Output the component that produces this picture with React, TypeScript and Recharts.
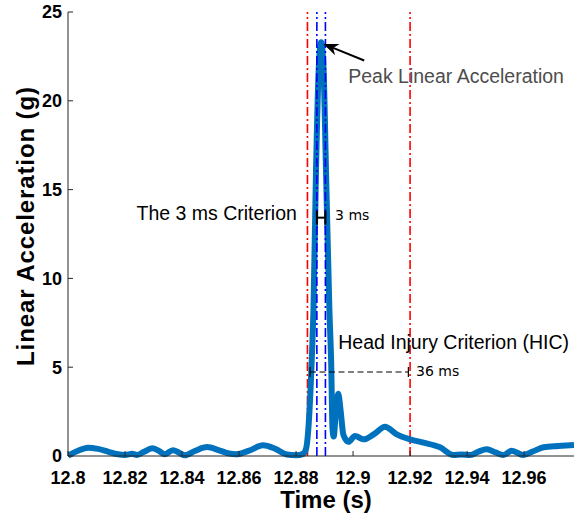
import { LineChart, Line, XAxis, YAxis, ReferenceLine, ReferenceDot } from "recharts";

// time (s) and linear acceleration (g)
const times = [
  12.8, 12.8035, 12.807, 12.8105, 12.814, 12.8175, 12.82, 12.8225, 12.8242, 12.8265,
  12.8295, 12.8318, 12.834, 12.8368, 12.839, 12.841, 12.8445, 12.8488, 12.853, 12.8565,
  12.859, 12.8635, 12.8684, 12.8725, 12.8768, 12.88, 12.8825, 12.8835, 12.8843, 12.8855,
  12.8861, 12.887, 12.888, 12.8888, 12.8896, 12.8905, 12.8917, 12.8923, 12.8928, 12.8932,
  12.894, 12.8948, 12.8956, 12.8966, 12.8984, 12.9007, 12.9036, 12.9075, 12.9112, 12.915,
  12.92, 12.9247, 12.9305, 12.9352, 12.938, 12.9411, 12.944, 12.9469, 12.95, 12.9527,
  12.9557, 12.9597, 12.963, 12.9668, 12.972, 12.9775,
];
const accel = [
  0.02, 0.3, 0.47, 0.4, 0.25, 0.1, 0.06, 0.12, 0.06, 0.22,
  0.43, 0.3, 0.1, 0.33, 0.18, 0.04, 0.28, 0.5, 0.32, 0.14,
  0.1, 0.3, 0.6, 0.42, 0.08, 0.04, 0.12, 0.4, 1.5, 5.4,
  8.2, 16.1, 22.0, 23.3, 22.0, 16.1, 8.2, 5.4, 1.5, 1.1,
  2.6, 3.5, 2.6, 1.2, 0.8, 1.13, 0.94, 1.25, 1.65, 1.25,
  0.94, 0.75, 0.49, 0.06, 0.08, 0.06, 0.25, 0.38, 0.2, 0.06,
  0.3, 0.06, 0.25, 0.49, 0.56, 0.62,
];
const xTicks = [12.8, 12.82, 12.84, 12.86, 12.88, 12.9, 12.92, 12.94, 12.96];
const yTicks = [0, 5, 10, 15, 20, 25];
const hicWindow = [12.884, 12.92];
const threeMsWindow = [12.8873, 12.8903];
const peak = { t: 12.8896, g: 23.2 };

const data = times.map((t, i) => ({ t, g: accel[i] }));

const sans = "'Liberation Sans', Arial, Helvetica, sans-serif";
const axisColor = "#262626";

function Arrow(props: any) {
  const { x1, y1, x2, y2 } = props;
  const dx = x2 - x1;
  const dy = y2 - y1;
  const len = Math.sqrt(dx * dx + dy * dy);
  const ux = dx / len;
  const uy = dy / len;
  const hl = 15;
  const hw = 6;
  const bx = x2 - ux * hl;
  const by = y2 - uy * hl;
  const nx = x2 - ux * hl * 0.7;
  const ny = y2 - uy * hl * 0.7;
  const pts = [
    [x2, y2],
    [bx - uy * hw, by + ux * hw],
    [nx, ny],
    [bx + uy * hw, by - ux * hw],
  ]
    .map((p) => p.join(","))
    .join(" ");
  return (
    <g>
      <line x1={x1} y1={y1} x2={nx} y2={ny} stroke="#000" strokeWidth={2} />
      <polygon points={pts} fill="#000" />
    </g>
  );
}

function Span(props: any) {
  const { x1, y1, x2, y2, dashed, cap, width } = props;
  return (
    <g stroke="#000">
      <line x1={x1} y1={y1} x2={x2} y2={y2} strokeWidth={width} strokeDasharray={dashed ? "6 3.5" : undefined} />
      <line x1={x1} y1={y1 - cap} x2={x1} y2={y1 + cap} strokeWidth={width} />
      <line x1={x2} y1={y2 - cap} x2={x2} y2={y2 + cap} strokeWidth={width} />
    </g>
  );
}

export default function App() {
  return (
    <div style={{ position: "absolute", left: 0, top: 0, background: "#fff" }}>
      <LineChart width={574} height={520} data={data} margin={{ top: 12, right: 0, bottom: 34, left: 8 }}>
        <XAxis
          xAxisId="top"
          orientation="top"
          dataKey="t"
          type="number"
          domain={[12.8, 12.9775]}
          allowDataOverflow
          ticks={xTicks}
          height={0}
          tick={false}
          tickSize={-5}
          stroke={axisColor}
        />
        <XAxis
          dataKey="t"
          type="number"
          domain={[12.8, 12.9775]}
          allowDataOverflow
          ticks={xTicks}
          height={30}
          tickSize={-5}
          tickMargin={20}
          stroke={axisColor}
          tick={{ fill: "#000", fontSize: 18, fontWeight: "bold", fontFamily: sans }}
          label={{
            content: ({ viewBox }: any) => (
              <text
                x={viewBox.x + viewBox.width / 2 + 5}
                y={viewBox.y + 52}
                textAnchor="middle"
                fontFamily={sans}
                fontWeight="bold"
                fontSize={24}
                fill="#000"
              >
                Time (s)
              </text>
            ),
          }}
        />
        <YAxis
          type="number"
          domain={[0, 25]}
          ticks={yTicks}
          width={60}
          tickSize={-5}
          tickMargin={11}
          stroke={axisColor}
          tick={{ fill: "#000", fontSize: 18, fontWeight: "bold", fontFamily: sans }}
          label={{
            content: ({ viewBox }: any) => {
              const cx = viewBox.x + 18;
              const cy = viewBox.y + viewBox.height / 2 - 8;
              return (
                <text
                  x={cx}
                  y={cy}
                  dy="0.35em"
                  textAnchor="middle"
                  transform={`rotate(-90, ${cx}, ${cy})`}
                  fontFamily={sans}
                  fontWeight="bold"
                  fontSize={24}
                  letterSpacing={0.9}
                  fill="#000"
                >
                  Linear Acceleration (g)
                </text>
              );
            },
          }}
        />
        {hicWindow.map((t) => (
          <ReferenceLine key={"r" + t} x={t} stroke="#ff0000" strokeWidth={1.6} strokeDasharray="9 3 2 3" />
        ))}
        <Line
          type="monotone"
          dataKey="g"
          stroke="#0072BD"
          strokeWidth={6}
          dot={false}
          activeDot={false}
          isAnimationActive={false}
        />
        {threeMsWindow.map((t) => (
          <ReferenceLine key={"b" + t} x={t} stroke="#0000ff" strokeWidth={1.6} strokeDasharray="9 3 2 3" />
        ))}
        <ReferenceLine
          segment={[
            { x: 12.9039, y: 22.27 },
            { x: peak.t, y: peak.g },
          ]}
          shape={(p: any) => <Arrow {...p} />}
        />
        <ReferenceLine
          segment={[
            { x: threeMsWindow[0], y: 13.42 },
            { x: threeMsWindow[1], y: 13.42 },
          ]}
          shape={(p: any) => <Span {...p} cap={7} width={2} />}
        />
        <ReferenceLine
          segment={[
            { x: 12.8849, y: 4.73 },
            { x: 12.9194, y: 4.73 },
          ]}
          shape={(p: any) => <Span {...p} cap={5} width={1.2} dashed />}
        />
        <ReferenceDot
          x={12.8983}
          y={21.39}
          r={0}
          fill="none"
          stroke="none"
          label={{ value: "Peak Linear Acceleration", position: "right", offset: 0, fill: "#4d4d4d", fontSize: 19.5, fontFamily: sans }}
        />
        <ReferenceDot
          x={12.8803}
          y={13.67}
          r={0}
          fill="none"
          stroke="none"
          label={{ value: "The 3 ms Criterion", position: "left", offset: 0, fill: "#000", fontSize: 19.5, fontFamily: sans }}
        />
        <ReferenceDot
          x={12.8937}
          y={13.55}
          r={0}
          fill="none"
          stroke="none"
          label={{ value: "3 ms", position: "right", offset: 0, fill: "#000", fontSize: 14, fontFamily: "'DejaVu Sans', sans-serif" }}
        />
        <ReferenceDot
          x={12.8948}
          y={6.42}
          r={0}
          fill="none"
          stroke="none"
          label={{ value: "Head Injury Criterion (HIC)", position: "right", offset: 0, fill: "#000", fontSize: 19.5, fontFamily: sans }}
        />
        <ReferenceDot
          x={12.9221}
          y={4.79}
          r={0}
          fill="none"
          stroke="none"
          label={{ value: "36 ms", position: "right", offset: 0, fill: "#000", fontSize: 14, fontFamily: "'DejaVu Sans', sans-serif" }}
        />
      </LineChart>
    </div>
  );
}
